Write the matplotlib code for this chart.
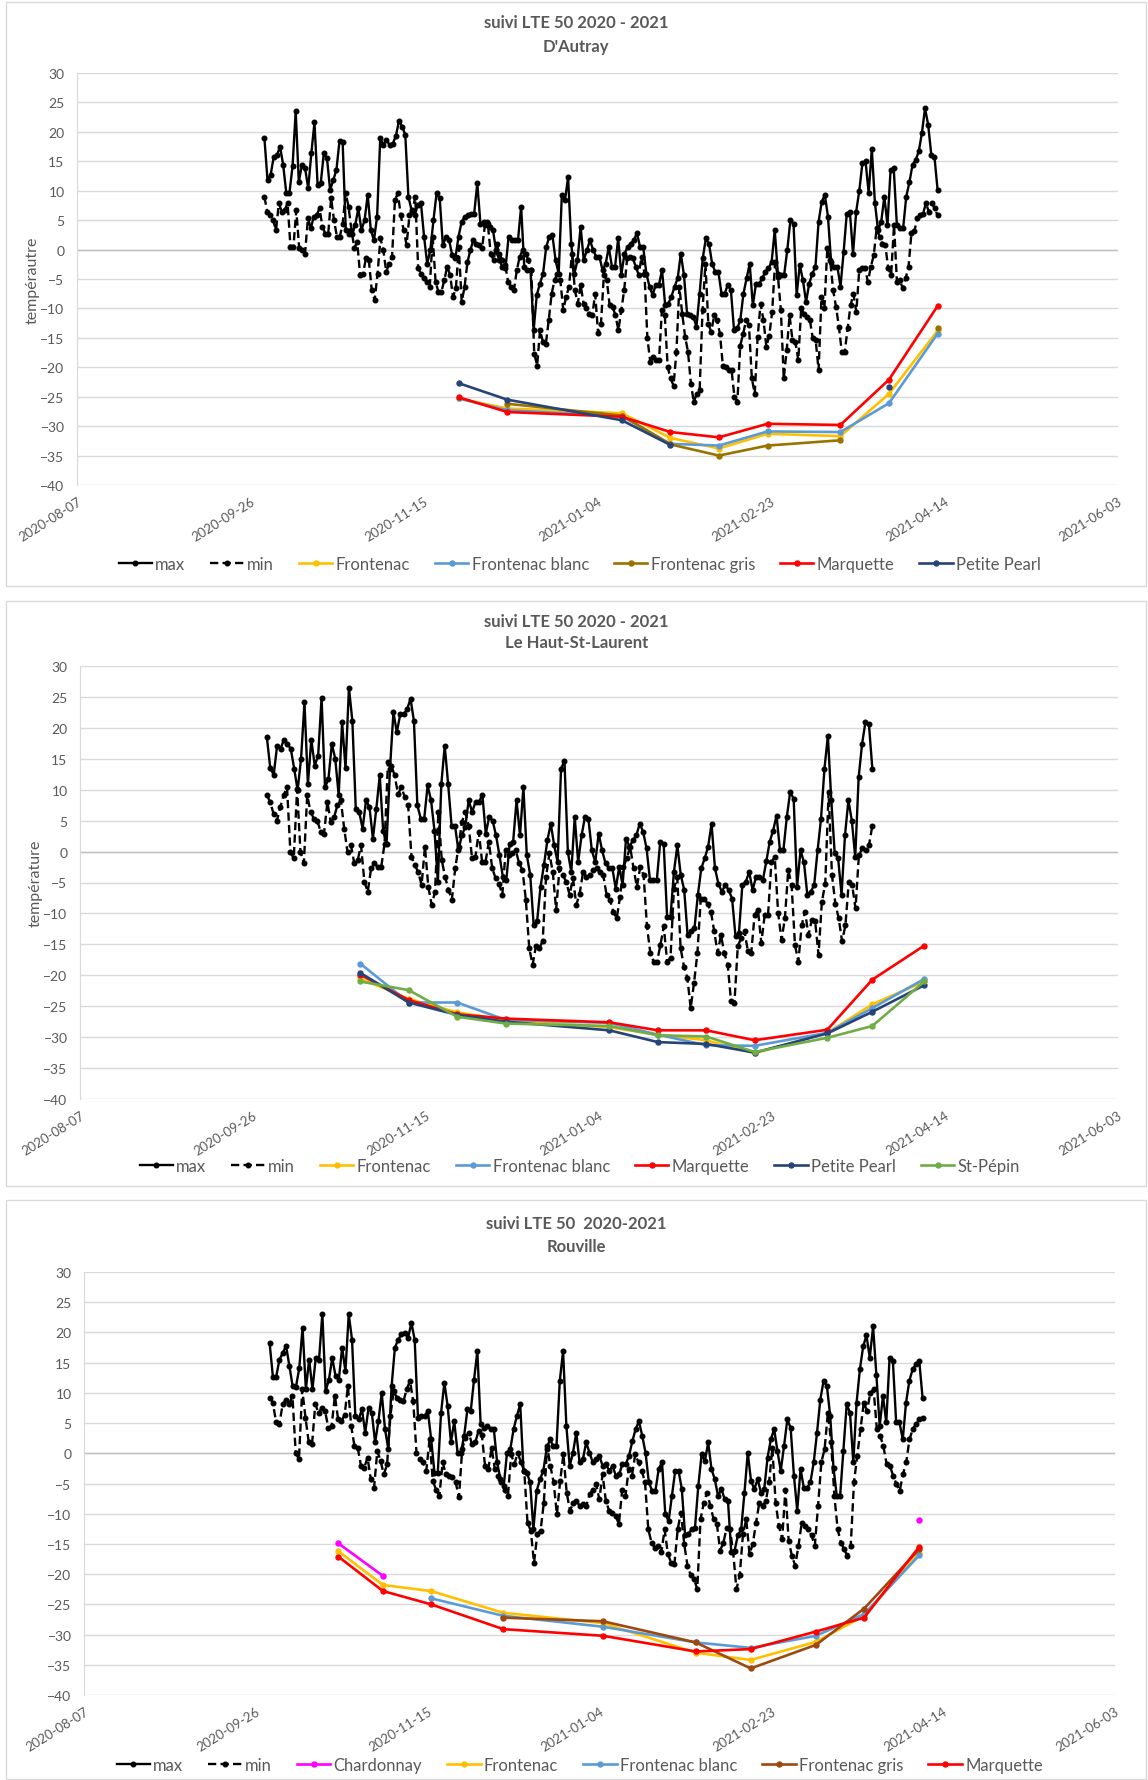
import numpy as np
import pandas as pd
import matplotlib
matplotlib.use("Agg")
import matplotlib.pyplot as plt
import matplotlib.dates as mdates
from matplotlib.patches import Rectangle

plt.rcParams['font.family'] = ['Lato', 'DejaVu Sans']

# ---------------- data ----------------
# daily max / min temperatures (start 2020-09-30)
series_start = '2020-09-30'

dautray_end = '2021-04-12'
dautray_max = [
    19.0, 11.8, 12.7, 15.8, 16.0, 17.5, 14.4, 9.6, 9.6, 14.2,
    23.5, 11.5, 14.4, 13.8, 10.4, 16.4, 21.6, 11.0, 11.3, 16.4,
    15.5, 10.1, 11.8, 13.5, 18.5, 18.2, 3.3, 2.7, 2.7, 4.1,
    7.0, 3.3, 5.0, 9.3, 3.3, 1.6, 5.6, 18.9, 17.8, 18.6,
    17.8, 18.0, 19.3, 21.9, 20.9, 19.5, 9.0, 6.7, 5.8, 7.6,
    7.9, 2.2, -2.4, -0.1, 5.0, 9.6, 8.7, 0.7, 2.2, 1.6,
    -1.0, -1.5, 2.2, 4.7, 5.6, 5.8, 6.1, 6.1, 11.3, 4.4,
    4.7, 4.7, 3.9, 3.3, -0.1, -1.8, -2.9, -3.2, 2.2, 1.6,
    1.6, 1.6, 7.3, -2.9, -3.5, -3.5, -13.7, -7.7, -5.8, -4.1,
    0.4, 2.2, 2.4, -1.8, -4.1, 9.3, 8.4, 12.3, 1.0, -4.1,
    -1.8, 3.9, -1.8, -0.1, 1.6, -0.1, -1.2, -1.2, -3.5, -2.4,
    0.4, -2.9, -2.9, 1.9, -4.3, -0.7, 0.4, 1.0, 1.6, 2.8,
    0.4, 0.4, -4.1, -6.3, -7.7, -6.0, -6.0, -3.5, -9.4, -9.2,
    -8.0, -6.3, -4.9, -0.7, -4.3, -10.9, -11.2, -11.4, -13.1, -7.5,
    -1.5, 1.9, 1.0, -2.4, -3.8, -3.8, -7.5, -7.5, -6.0, -6.9,
    -13.7, -13.4, -12.0, -7.5, -4.9, -2.4, -9.5, -5.8, -5.8, -4.9,
    -3.8, -3.2, -2.1, 3.3, -4.1, -4.3, -4.3, -0.1, 5.0, 4.4,
    -7.7, -2.6, -5.2, -8.9, -5.8, -4.1, -2.9, 4.7, 8.1, 9.3,
    5.6, -2.1, -2.9, -2.9, -6.3, -0.4, 6.1, 6.4, -0.7, 6.4,
    10.0, 14.7, 15.0, 9.6, 17.1, 7.9, 3.3, 4.7, 9.0, 4.2,
    13.6, 13.8, 4.2, 3.6, 3.6, 9.0, 11.4, 14.4, 15.2, 16.7,
    19.8, 24.0, 21.2, 16.1, 15.8, 10.2]
dautray_min = [
    9.0, 6.4, 5.8, 5.0, 3.3, 7.9, 6.4, 6.7, 7.9, 0.4,
    0.4, 6.7, 0.2, -0.1, -0.7, 5.3, 3.6, 5.6, 5.8, 7.0,
    3.9, 2.7, 2.7, 8.7, 5.0, 2.2, 2.2, 4.4, 9.6, 7.3,
    3.3, 0.3, 1.3, -4.4, -4.1, -1.5, -1.8, -6.9, -8.6, -4.1,
    1.9, -0.1, -3.8, -2.4, -1.2, 8.4, 9.6, 5.8, 3.3, 0.8,
    5.8, 6.4, 9.0, -3.2, -4.1, -4.9, -5.5, -6.3, 2.2, -5.5,
    -7.2, -7.2, -5.2, -2.9, -4.3, -8.0, -6.6, 0.4, -8.9, -6.3,
    -2.1, -0.1, 1.6, 1.0, 0.7, 0.2, 4.1, 4.4, -0.7, -1.8,
    1.0, -0.7, -1.8, -2.6, -5.5, -6.3, -6.9, -3.5, -1.2, -0.1,
    -0.7, -1.8, -3.5, -17.7, -19.7, -13.7, -15.7, -16.0, -12.0, -7.5,
    -5.2, -4.1, -5.2, -10.3, -8.0, -6.3, -0.7, -6.9, -9.2, -6.0,
    -9.2, -10.0, -10.9, -11.2, -7.5, -14.2, -12.6, -4.3, -5.2,
    -9.5, -9.7, -11.2, -13.7, -10.3, -6.9, -1.5, -1.2, -1.5, -2.9,
    -4.3, -1.2, -4.1, -15.1, -19.1, -18.2, -18.8, -18.8, -10.3, -11.2,
    -20.0, -21.9, -23.1, -17.4, -6.3, -10.9, -14.8, -17.4, -22.8, -25.9,
    -24.5, -23.9, -10.3, -2.4, -12.6, -14.0, -11.2, -12.0, -14.3, -19.7,
    -20.0, -20.5, -20.5, -25.0, -25.9, -16.3, -14.3, -12.0, -12.9, -21.9,
    -24.5, -14.8, -9.2, -12.0, -16.5, -14.6, -10.6, -2.1, -4.6, -10.3,
    -21.9, -17.1, -11.2, -15.4, -15.7, -18.8, -10.0, -10.9, -11.4, -12.0,
    -15.1, -15.4, -20.5, -8.0, -10.0, 0.2, -1.8, -6.9, -9.7, -13.1,
    -17.4, -17.4, -13.4, -9.5, -7.5, -10.6, -3.5, -3.2, -3.2, -5.5,
    -2.9, -1.0, 3.6, 2.2, 1.0, 0.7, -3.2, -4.3, 4.2, -5.5,
    -5.2, -6.6, -4.9, -2.9, 2.8, 3.1, 5.3, 5.8, 6.1, 7.9,
    6.4, 7.9, 7.0, 5.8]

hsl_end = '2021-03-24'
hsl_max = [
    18.5, 13.5, 12.4, 17.1, 16.6, 18.1, 17.4, 16.6, 13.4, 9.9,
    15.0, 24.1, 10.9, 18.1, 13.9, 15.5, 24.9, 10.4, 11.7, 17.4,
    15.0, 9.1, 20.9, 13.5, 26.5, 21.1, 6.9, 6.4, 3.7, 8.3,
    7.2, 2.1, 6.9, 12.3, 3.4, 1.3, 13.4, 22.5, 19.3, 22.2,
    22.2, 23.0, 24.7, 21.1, 7.5, 5.3, 5.3, 10.7, 8.3, 3.4,
    -4.9, 10.9, 17.1, 10.9, 4.2, 4.2, 0.2, 2.6, 4.0, 8.3,
    6.4, 8.0, 8.0, 9.2, 2.9, 5.6, 5.0, 2.6, -0.6, -4.1,
    -4.6, 1.3, 1.6, 8.3, 2.6, 10.4, -0.6, -3.8, -11.9, -11.3,
    -5.7, -2.2, 1.8, 4.5, 1.0, -1.7, 13.4, 14.7, -0.1, -3.3,
    5.6, -1.7, 2.6, 5.6,
    5.3, 0.2, -1.7, 2.9, 0.2, -1.9, -2.7, -2.7, -6.0, -2.5,
    -5.4, 2.1, 0.8, 1.8, 2.6, 4.5, 3.2, 0.5, -4.6, -4.6,
    -4.6, 1.6, 1.3, -10.5, -10.5, -3.3, 1.0, -3.8, -6.2, -13.5,
    -12.9, -12.4, -7.0, -2.7, -1.1, 0.8, 4.5, -2.7, -5.2, -6.5,
    -5.4, -6.2, -7.6, -13.7, -13.2, -5.4, -4.9, -3.3, -6.2, -4.1,
    -4.1, -4.6, -1.6, 1.6, 3.4, 5.8, 0.2, 0.2, 5.6, 9.7,
    8.5, -5.7, 0.2, -1.7, -7.0, -6.5, -5.4, 0.2, 5.3, 13.4,
    18.7, 8.3, -0.3, -1.1, -7.0, 2.6, 8.3, 5.0, -0.9, 12.0,
    17.4, 21.0, 20.6, 13.4]
hsl_min = [
    9.1, 8.0, 6.1, 5.0, 7.2, 9.1, 10.4, -0.1, -1.1, 10.1,
    -0.1, -1.9, 9.1, 6.4, 5.3, 5.0, 3.2, 2.9, 8.0, 4.8,
    5.6, 7.5, 8.3, 3.7, -0.1, 1.0, -1.9, -1.4, 1.0, -4.9,
    -6.5, -2.7, -1.9, -2.5, -2.5, 1.3, 14.4, 13.9, 12.3, 9.3,
    10.4, 8.8, 7.5, -0.9, -2.2, -3.3, -5.4, 0.8, -5.7, -8.6,
    -6.5, 6.4, -1.4, -4.1, -6.2, -7.8, -2.7, 0.8, 4.8, 6.4,
    4.2, -1.1, -0.9, 3.2, -1.7, -1.7, 1.6, -2.7, -4.3, -5.2,
    -7.0, 0.2, -0.6, -0.3, 0.2, -1.9, -3.0, -7.8, -15.6, -18.3,
    -15.3, -15.6, -14.5, -4.1, -0.3, -3.3, -9.4, -2.7, -3.8, -4.9,
    -7.0, -4.3, -8.6, -6.8,
    -3.3, -4.1, -3.8, -3.0, -2.7, -3.3, -3.8, -7.0, -7.8, -9.7,
    -10.8, -7.3, -2.5, -1.1, 0.8, -2.7, -5.7, -2.5, -3.8, -12.1,
    -16.4, -17.8, -17.8, -15.1, -12.1, -17.8, -17.2, -6.0, -4.1, -15.6,
    -18.6, -20.4, -25.3, -21.2, -16.4, -7.6, -7.6, -8.4, -9.7, -12.9,
    -16.4, -13.5, -16.4, -18.3, -24.2, -24.5, -15.3, -14.0, -12.9, -16.1,
    -16.4, -10.2, -9.4, -14.8, -10.2, -10.2, -1.7, -0.9, -10.0, -14.3,
    -10.8, -3.0, -5.4, -15.1, -17.8, -11.9, -9.7, -13.5, -11.1, -11.3,
    -16.7, -8.1, -5.2, 9.6, -3.8, -8.4, -10.8, -14.5, -11.9, -4.9,
    -5.4, -9.2, -0.6, 0.5, 0.2, 1.0, 4.2]

rouville_end = '2021-04-08'
rouville_max = [
    18.3, 12.7, 12.7, 15.5, 16.6, 17.8, 14.5, 11.1, 11.0, 14.1,
    20.8, 10.6, 15.5, 10.6, 15.8, 15.5, 23.1, 10.3, 12.2, 15.8,
    12.8, 12.2, 17.5, 13.6, 23.0, 18.8, 6.2, 5.6, 7.3, 3.4,
    7.5, 6.7, 1.8, 5.3, 10.0, 4.0, 0.7, 11.1, 17.5, 18.8,
    19.7, 19.9, 19.1, 21.6, 18.8, 5.9, 6.2, 6.2, 7.0, 2.3,
    -3.2, -3.2, 6.7, 11.7, 7.8, 1.8, 5.3, 0.1, 0.1, 2.9,
    7.3, 7.0, 12.2, 16.9, 4.8, 4.2, 4.5, 4.0, 4.0, -1.5,
    -4.3, -5.4, 0.1, 0.7, 4.0, 6.2, 8.1, -2.9, -3.2, -4.8,
    -12.6, -6.2, -4.3, -2.9, 0.7, 2.3, 1.2, 1.2, 12.0, 16.9,
    4.5, -2.1, 0.1, 3.4, -1.5, -1.0, 1.8, 0.1, -1.5,
    -1.0, -0.4, -2.1, -1.8, -2.9, -2.1, -3.7, -3.5, -1.8, -1.8,
    -0.4, 2.0, 4.0, 5.3, 2.9, 0.1, -4.8, -6.2, -6.2, -2.6,
    -1.5, -10.1, -11.2, -7.1, -2.9, -2.9, -5.9, -13.6, -13.3, -12.6,
    -12.3, -5.4, -0.2, -1.3, 1.8, -2.6, -4.3, -7.1, -5.9, -7.6,
    -7.9, -16.4, -16.1, -13.6, -12.6, -6.5, 0.1, -4.6, -5.9, -4.3,
    -6.5, -5.9, -0.7, 2.3, 4.0, 0.4, -2.9, 1.2, 5.6, 4.2,
    -3.7, -9.5, -2.6, -5.7, -5.7, -4.8, -1.5, 3.4, 8.9, 12.0,
    11.1, 6.2, -2.4, -7.1, -7.1, 0.4, 8.1, 6.7, -1.5, 8.4,
    13.9, 17.7, 19.5, 15.8, 21.0, 13.0, 4.5, 9.5, 5.1, 15.8,
    15.3, 5.1, 5.1, 2.3, 8.4, 12.0, 13.9, 14.7, 15.3, 9.2]
rouville_min = [
    9.2, 8.4, 5.1, 4.8, 8.1, 8.9, 8.1, 9.5, 0.1, -1.0,
    10.6, 5.9, 1.8, 1.5, 8.1, 6.7, 7.5, 7.0, 4.2, 4.5,
    9.5, 5.6, 5.3, 6.4, 11.1, 4.5, 1.2, 0.9, -2.1, -2.4,
    -0.7, -4.3, -5.7, 0.4, -1.3, -3.5, -1.8, 6.2, 10.3, 9.2,
    8.9, 8.6, 10.6, 12.0, 8.6, 0.1, -1.0, -1.5, -2.9, 2.3,
    -4.6, -6.0, -7.1, -1.5, -3.5, -3.7, -4.0, -4.8, -7.3, 0.7,
    2.6, 3.4, 1.5, 1.8, 3.7, 3.1, -2.1, -2.6, 0.9, -2.6,
    -3.7, -4.8, -6.0, -7.1, -0.2, -1.8, 0.1, -1.5, -2.9, -11.5,
    -12.8, -18.1, -13.4, -12.8, -8.2, 1.2, -2.1, -4.8, -10.1, -4.6,
    -0.2, -6.5, -9.5, -8.2, -7.9, -8.7, -8.4, -8.7, -6.8, -6.0,
    -5.1, -7.6, -3.5, -7.9, -9.5, -9.8, -10.4, -11.7, -6.0, -7.1,
    -2.6, -3.7, -0.2, -1.5, -2.9, -4.8, -12.6, -14.8, -15.6, -15.3,
    -16.4, -12.6, -16.7, -18.1, -18.3, -12.6, -9.8, -15.0, -18.6, -20.2,
    -20.8, -22.5, -10.9, -8.2, -6.5, -8.7, -10.9, -11.7, -16.1, -14.8,
    -12.3, -12.6, -16.4, -22.5, -20.2, -13.4, -10.9, -16.7, -15.0, -11.5,
    -8.2, -8.7, -7.9, -4.8, 0.9, -8.2, -12.0, -14.2, -6.0, -14.5,
    -17.0, -18.6, -15.3, -11.5, -12.0, -12.6, -13.6, -15.3, -8.7, -1.5,
    0.7, 6.7, 1.8, -7.1, -12.6, -14.8, -15.9, -17.0, -15.3, -4.8,
    -0.4, 4.0, 8.4, 7.0, 10.0, 10.6, 4.0, 2.9, 1.2, -1.8,
    -2.1, -3.7, -5.1, -6.2, -3.5, -1.5, 2.3, 4.0, 4.8, 5.6,
    5.9]

nan = np.nan

# LTE 50 sampling dates and values per cultivar
dautray_lte_dates = ['2020-11-25', '2020-12-09', '2021-01-11', '2021-01-25', '2021-02-08',
                     '2021-02-22', '2021-03-15', '2021-03-29', '2021-04-12']
dautray_frontenac = [-25.3, -27.0, -27.8, -32.0, -33.8, -31.3, -31.7, -24.5, -13.8]
dautray_frontenac_blanc = [-25.3, -27.3, -28.3, -33.0, -33.3, -30.9, -31.0, -26.1, -14.3]
dautray_frontenac_gris = [nan, -26.2, -28.2, -33.1, -35.0, -33.3, -32.4, nan, -13.3]
dautray_marquette = [-25.1, -27.6, -28.4, -31.0, -31.9, -29.6, -29.8, -22.1, -9.6]
dautray_petite_pearl = [-22.7, -25.5, -29.0, -33.2, nan, nan, nan, -23.4, nan]

hsl_lte_dates = ['2020-10-27', '2020-11-10', '2020-11-24', '2020-12-08', '2021-01-07', '2021-01-21',
                 '2021-02-04', '2021-02-18', '2021-03-11', '2021-03-24', '2021-04-08']
hsl_frontenac = [-20.5, -23.8, -26.0, -27.2, -28.4, -29.6, -30.5, -32.6, -29.3, -24.7, -21.0]
hsl_frontenac_blanc = [-18.1, -24.4, -24.4, -27.2, -27.7, -29.6, -31.3, -31.4, -29.3, -25.3, -20.6]
hsl_marquette = [-19.9, -24.0, -26.3, -27.0, -27.6, -28.9, -28.9, -30.5, -28.8, -20.7, -15.2]
hsl_petite_pearl = [-19.6, -24.4, -26.4, -27.5, -28.9, -30.8, -31.1, -32.5, -29.4, -25.9, -21.6]
hsl_st_pepin = [-21.0, -22.4, -26.7, -27.8, -28.2, -29.7, -29.9, -32.4, -30.1, -28.2, -21.0]

rouville_lte_dates = ['2020-10-20', '2020-11-02', '2020-11-16', '2020-12-07', '2021-01-05',
                      '2021-02-01', '2021-02-17', '2021-03-08', '2021-03-22', '2021-04-07']
rouville_chardonnay = [-14.9, -20.3, nan, nan, nan, nan, nan, nan, nan, -11.0]
rouville_frontenac = [-16.2, -21.8, -22.8, -26.4, -28.1, -33.0, -34.2, -31.2, -26.9, -16.5]
rouville_frontenac_blanc = [nan, nan, -24.0, -26.9, -28.7, -31.3, -32.2, -30.2, -26.6, -16.9]
rouville_frontenac_gris = [nan, nan, nan, -27.2, -27.8, -31.3, -35.6, -31.7, -25.7, -15.9]
rouville_marquette = [-17.1, -22.8, -25.0, -29.1, -30.2, -32.8, -32.4, -29.5, -27.2, -15.5]

# ---------------- style ----------------
GRAY = '#595959'
GRID = '#d9d9d9'
colors = {
    'Chardonnay': '#FF00FF',
    'Frontenac': '#FFC000',
    'Frontenac blanc': '#5B9BD5',
    'Marquette': '#FF0000',
    'Petite Pearl': '#264478',
    'St-Pépin': '#70AD47',
}

W, H = 1148, 1781
fig = plt.figure(figsize=(W / 100, H / 100), dpi=100)


def fx(px):
    return px / W


def fy(py):
    return 1 - py / H


def draw_panel(ax_box, frame_box, titles, title_ys, ylabel, tmax, tmin, end,
               lte_dates, lte_series, legend_y):
    x0, y0, x1, y1 = frame_box
    fig.patches.append(Rectangle((fx(x0), fy(y1)), fx(x1 - x0), (y1 - y0) / H,
                                 transform=fig.transFigure, facecolor='none',
                                 edgecolor=GRID, lw=1, zorder=-1))
    a0, b0, a1, b1 = ax_box
    ax = fig.add_axes([fx(a0), fy(b1), fx(a1 - a0), (b1 - b0) / H])
    ax.set_facecolor('none')

    d_max = pd.date_range(series_start, end, periods=len(tmax))
    d_min = pd.date_range(series_start, end, periods=len(tmin))
    handles = []
    h, = ax.plot(d_max, tmax, color='black', lw=1.7, marker='o', ms=3.3, label='max', zorder=3)
    handles.append(h)
    h, = ax.plot(d_min, tmin, color='black', lw=1.7, ls=(0, (3.5, 1.8)), marker='o', ms=3.3,
                 label='min', zorder=3)
    handles.append(h)
    ld = pd.to_datetime(lte_dates)
    for name, col, vals in lte_series:
        h, = ax.plot(ld, vals, color=col, lw=1.9, marker='o', ms=3.6, label=name, zorder=4)
        handles.append(h)

    ax.set_xlim(pd.Timestamp('2020-08-07'), pd.Timestamp('2021-06-03'))
    ax.set_ylim(-40, 30)
    ax.set_yticks(np.arange(-40, 31, 5))
    ticks = pd.date_range('2020-08-07', periods=7, freq='50D')
    ax.set_xticks(ticks)
    ax.xaxis.set_major_formatter(mdates.DateFormatter('%Y-%m-%d'))
    ax.tick_params(axis='both', length=0, colors=GRAY)
    ax.tick_params(axis='y', pad=9, labelsize=10)
    ax.tick_params(axis='x', pad=7, labelsize=9.5)
    for lab in ax.get_xticklabels():
        lab.set_rotation(32)
        lab.set_ha('right')
        lab.set_va('top')
        lab.set_rotation_mode('anchor')
    ax.grid(axis='y', color=GRID, lw=1)
    ax.axhline(0, color='#bfbfbf', lw=1, zorder=1)
    ax.set_axisbelow(True)
    for s in ['top', 'right', 'bottom']:
        ax.spines[s].set_visible(False)
    ax.spines['left'].set_color(GRID)

    if ylabel:
        ax.set_ylabel(ylabel, color=GRAY, fontsize=11.5)
        ax.yaxis.set_label_coords(-0.036, 0.5)

    fig.text(0.502, fy(title_ys[0]), titles[0], ha='center', va='center',
             fontsize=12, fontweight='bold', color=GRAY)
    fig.text(0.502, fy(title_ys[1]), titles[1], ha='center', va='center',
             fontsize=12, fontweight='bold', color=GRAY)

    ax.legend(handles=handles, loc='center', bbox_to_anchor=(0.505, fy(legend_y)),
              bbox_transform=fig.transFigure, ncol=len(handles), frameon=False,
              fontsize=12, labelcolor=GRAY, handlelength=2.0, handletextpad=0.2,
              columnspacing=1.5)
    return ax


draw_panel((77, 74, 1118, 486), (6, 3, 1146, 587),
           ('suivi LTE 50 2020 - 2021', "D'Autray"), (23, 47), 'tempérautre',
           dautray_max, dautray_min, dautray_end, dautray_lte_dates,
           [('Frontenac', colors['Frontenac'], dautray_frontenac),
            ('Frontenac blanc', colors['Frontenac blanc'], dautray_frontenac_blanc),
            ('Frontenac gris', '#997300', dautray_frontenac_gris),
            ('Marquette', colors['Marquette'], dautray_marquette),
            ('Petite Pearl', colors['Petite Pearl'], dautray_petite_pearl)],
           565)

draw_panel((80, 667, 1118, 1100), (6, 602, 1146, 1187),
           ('suivi LTE 50 2020 - 2021', 'Le Haut-St-Laurent'), (622, 643), 'température',
           hsl_max, hsl_min, hsl_end, hsl_lte_dates,
           [('Frontenac', colors['Frontenac'], hsl_frontenac),
            ('Frontenac blanc', colors['Frontenac blanc'], hsl_frontenac_blanc),
            ('Marquette', colors['Marquette'], hsl_marquette),
            ('Petite Pearl', colors['Petite Pearl'], hsl_petite_pearl),
            ('St-Pépin', colors['St-Pépin'], hsl_st_pepin)],
           1167)

draw_panel((84, 1273, 1115, 1696), (6, 1201, 1146, 1780),
           ('suivi LTE 50  2020-2021', 'Rouville'), (1224, 1247), None,
           rouville_max, rouville_min, rouville_end, rouville_lte_dates,
           [('Chardonnay', colors['Chardonnay'], rouville_chardonnay),
            ('Frontenac', colors['Frontenac'], rouville_frontenac),
            ('Frontenac blanc', colors['Frontenac blanc'], rouville_frontenac_blanc),
            ('Frontenac gris', '#9E480E', rouville_frontenac_gris),
            ('Marquette', colors['Marquette'], rouville_marquette)],
           1766)

fig.savefig('out.png', dpi=100)
